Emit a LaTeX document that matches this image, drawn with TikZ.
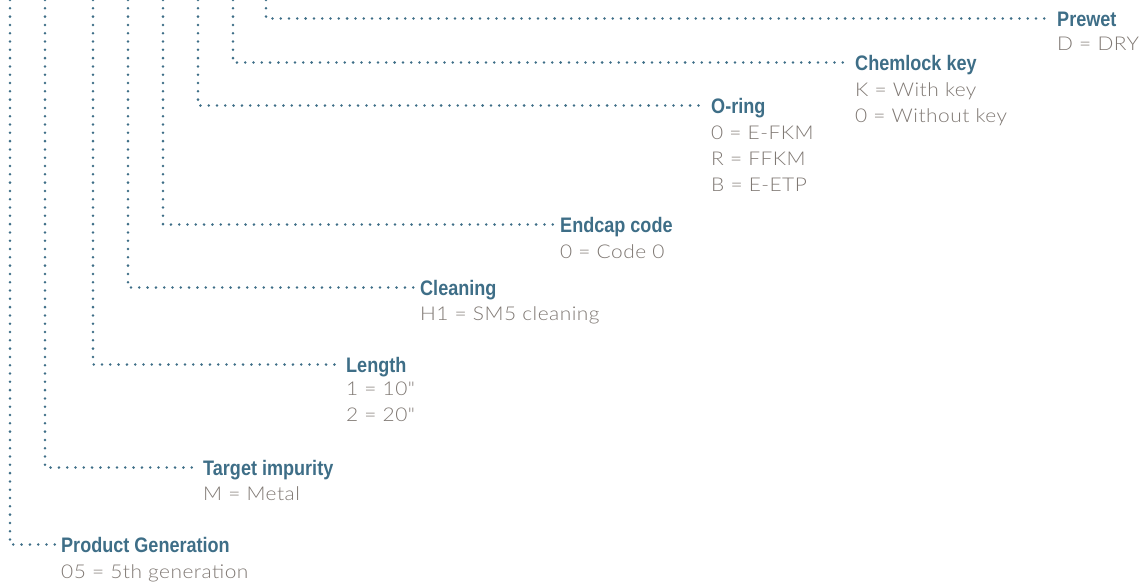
\documentclass[tikz,border=0pt]{standalone}
\usepackage{fontspec}
\newfontfamily\titlef{Liberation Sans Bold}[FakeStretch=0.86]
\newfontfamily\subf{Lato Light}[FakeStretch=1.1, LetterSpace=2.5]
\definecolor{codeblue}{HTML}{3E6E87}
\definecolor{optgray}{HTML}{7F7873}
\tikzset{
  ttl/.style={font=\titlef\fontsize{21}{21}\selectfont, text=codeblue, anchor=base west, inner sep=0pt, text height=15pt, text depth=0pt},
  opt/.style={font=\subf\fontsize{19}{19}\selectfont, text=optgray, anchor=base west, inner sep=0pt},
  lead/.style={draw=codeblue, line width=2.8pt, line cap=round, dash pattern=on 0pt off 8.3pt, shorten >=6pt},
}
\begin{document}
\begin{tikzpicture}[x=1pt,y=-1pt]
\useasboundingbox (0,0) rectangle (1143,587);
% titles
\node[ttl] (pg) at (61,552) {Product Generation};
\node[ttl] (ti) at (203,475) {Target impurity};
\node[ttl] (le) at (346,372) {Length};
\node[ttl] (cl) at (420,295) {Cleaning};
\node[ttl] (ec) at (560,232) {Endcap code};
\node[ttl] (or) at (711,113) {O-ring};
\node[ttl] (ck) at (855,70) {Chemlock key};
\node[ttl] (pw) at (1057,26) {Prewet};
% options
\node[opt] (pg1) at (61,578) {05 = 5th generation};
\node[opt] (ti1) at (203,500) {M = Metal};
\node[opt] (le1) at (346,395) {1 = 10"};
\node[opt] (le2) at (346,421) {2 = 20"};
\node[opt] (cl1) at (420,320) {H1 = SM5 cleaning};
\node[opt] (ec1) at (560,258) {0 = Code 0};
\node[opt] (or1) at (711,139) {0 = E-FKM};
\node[opt] (or2) at (711,165) {R = FFKM};
\node[opt] (or3) at (711,191) {B = E-ETP};
\node[opt] (ck1) at (855,96) {K = With key};
\node[opt] (ck2) at (855,122) {0 = Without key};
\node[opt] (pw1) at (1057,50) {D = DRY};
% leader tops
\coordinate (vpg) at (10,0);
\coordinate (vti) at (45,0);
\coordinate (vle) at (93,0);
\coordinate (vcl) at (128,0);
\coordinate (vec) at (163,0);
\coordinate (vor) at (198,0);
\coordinate (vck) at (233,0);
\coordinate (vpw) at (266,0);
\draw[lead] (vpg) |- (pg.west);
\draw[lead] (vti) |- (ti.west);
\draw[lead] (vle) |- (le.west);
\draw[lead] (vcl) |- (cl.west);
\draw[lead] (vec) |- (ec.west);
\draw[lead] (vor) |- (or.west);
\draw[lead] (vck) |- (ck.west);
\draw[lead] (vpw) |- (pw.west);
\end{tikzpicture}
\end{document}
